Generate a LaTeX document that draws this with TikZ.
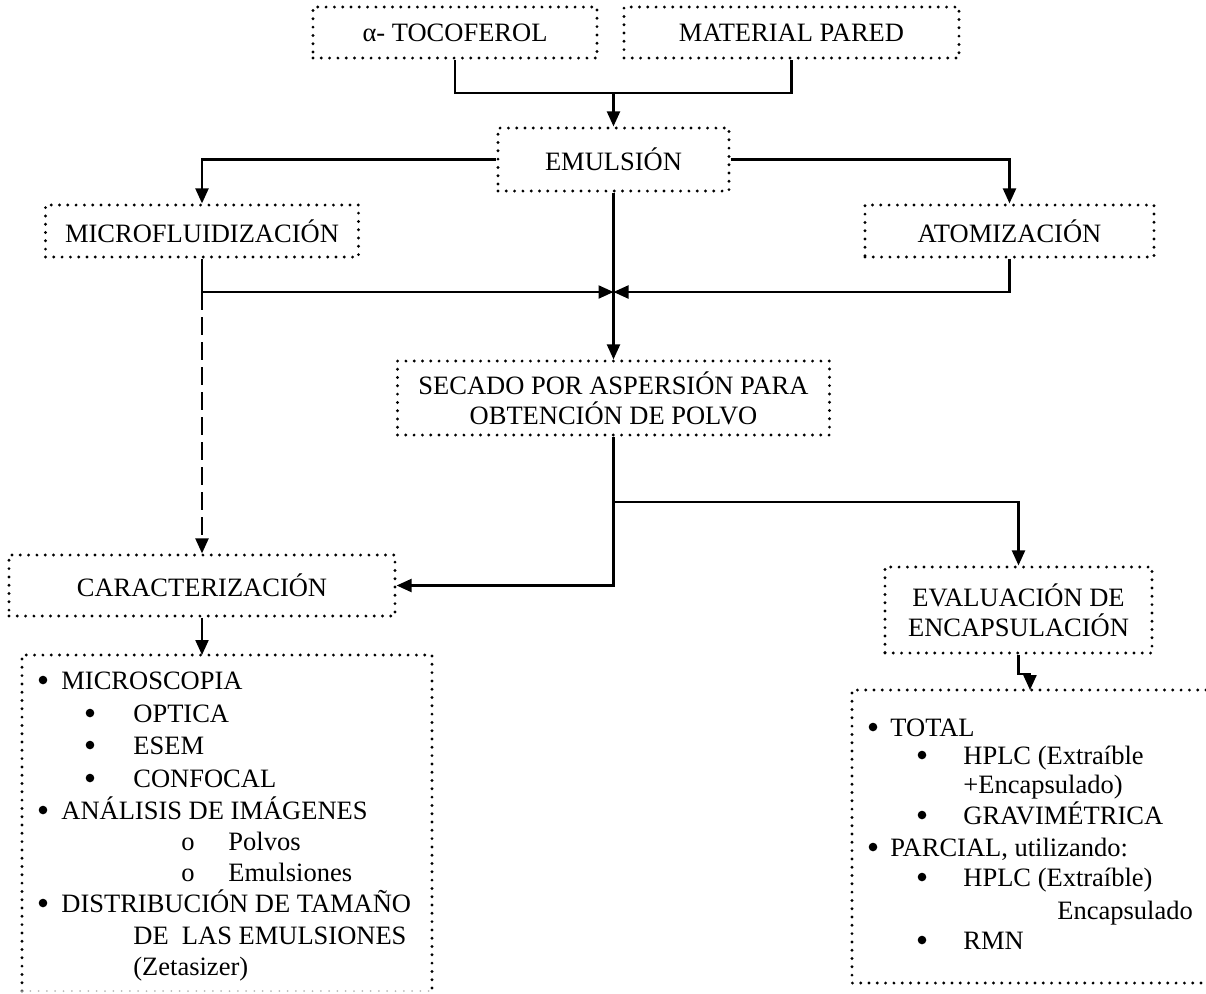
\documentclass[tikz,border=0pt]{standalone}
\usepackage{fontspec}
\setmainfont{Liberation Serif}
\usetikzlibrary{arrows.meta}
\begin{document}
\begin{tikzpicture}[x=0.5pt,y=-0.5pt,
  dotline/.style={line width=1.6pt,line cap=round,dash pattern=on 0pt off 4.15pt},
  box/.style={dotline,draw,rectangle,inner sep=0pt,align=center,font=\fontsize{13.25pt}{15pt}\selectfont},
  conn/.style={line width=1.1pt},
  arr/.style={conn,-{Triangle[length=7.5pt,width=6.5pt]}},
  dsh/.style={dash pattern=on 9pt off 3.5pt},
  lt/.style={inner sep=0pt,anchor=base west,font=\fontsize{13.25pt}{15pt}\selectfont},
  bt/.style={inner sep=0pt,anchor=base,font=\fontsize{13.25pt}{15pt}\selectfont},
  dotb/.style={circle,fill,inner sep=0pt,minimum size=4.3pt}]
\useasboundingbox (0,0) rectangle (1206,993);
% boxes
\node[box,minimum width=142pt,minimum height=25.5pt] (toco) at (455,32.5) {α- TOCOFEROL};
\node[box,minimum width=167.5pt,minimum height=25.5pt] (mat) at (791.5,32.5) {MATERIAL PARED};
\node[box,minimum width=115.5pt,minimum height=31.5pt] (emul) at (613.5,159.5) {EMULSIÓN};
\node[box,minimum width=156.5pt,minimum height=26pt] (micro) at (202,231) {MICROFLUIDIZACIÓN};
\node[box,minimum width=144.5pt,minimum height=26pt] (atom) at (1009.5,231) {ATOMIZACIÓN};
\node[box,minimum width=216pt,minimum height=37pt] (secado) at (613.5,398) {SECADO POR ASPERSIÓN PARA\\OBTENCIÓN DE POLVO};
\node[box,minimum width=193pt,minimum height=30.5pt] (caract) at (202,585.5) {CARACTERIZACIÓN};
\node[box,minimum width=133.5pt,minimum height=43pt] (eval) at (1018.5,610) {EVALUACIÓN DE\\ENCAPSULACIÓN};
% list boxes (frames)
\coordinate (l1a) at (22,655);
\coordinate (l1b) at (432,991);
\coordinate (l2a) at (852,690);
\coordinate (l2b) at (1206,983);
\draw[dotline] (l1a |- l1b) -- (l1a) -- (l1a -| l1b) -- (l1b);
\draw[dotline,line width=1pt,gray!55] (l1a |- l1b) -- (l1b);
\draw[dotline] (l2a -| l2b) -- (l2a) -- (l2a |- l2b) -- (l2b);
% connectors
\coordinate (j1) at (613.5,93);
\draw[conn] (toco.south) |- (j1) -| (mat.south);
\draw[arr] (j1) -- (emul.north);
\draw[arr] (emul.west) -| (micro.north);
\draw[arr] (emul.east) -| (atom.north);
\coordinate (j2) at (613.5,292);
\draw[arr] (micro.south) |- (j2);
\draw[arr] (atom.south) |- (j2);
\draw[arr] (emul.south) -- (secado.north);
\draw[arr,dsh] (micro.south |- j2) -- (caract.north);
\coordinate (j3) at (613.5,502);
\draw[arr] (secado.south) |- (caract.east);
\draw[arr] (j3) -| (eval.north);
\coordinate (k1) at (202,655);
\draw[arr] (caract.south) -- (k1);
\coordinate (k2) at (1030,690);
\draw[arr] (eval.south) -- ++(0,19) -| (k2);
% left list
\node[dotb] (b1) at (43,680) {};
\node[lt] (t1) at (61,689) {MICROSCOPIA};
\node[dotb] (b2) at (90,713) {};
\node[lt] (t2) at (133,722) {OPTICA};
\node[dotb] (b3) at (90,745) {};
\node[lt] (t3) at (133,754) {ESEM};
\node[dotb] (b4) at (90,778) {};
\node[lt] (t4) at (133,787) {CONFOCAL};
\node[dotb] (b5) at (43,810) {};
\node[lt] (t5) at (61,819) {ANÁLISIS DE IMÁGENES};
\node[bt] (b6) at (188,850) {o};
\node[lt] (t6) at (228,850) {Polvos};
\node[bt] (b7) at (188,881) {o};
\node[lt] (t7) at (228,881) {Emulsiones};
\node[dotb] (b8) at (43,903) {};
\node[lt] (t8) at (61,912) {DISTRIBUCIÓN DE TAMAÑO};
\node[lt] (t9) at (133,944) {DE\ \ LAS EMULSIONES};
\node[lt] (t10) at (133,975) {(Zetasizer)};
% right list
\node[dotb] (c1) at (873,727) {};
\node[lt] (s1) at (890,736) {TOTAL};
\node[dotb] (c2) at (922,755) {};
\node[lt] (s2) at (963,764) {HPLC (Extraíble};
\node[lt] (s3) at (963,793) {+Encapsulado)};
\node[dotb] (c4) at (922,815) {};
\node[lt] (s4) at (963,824) {GRAVIMÉTRICA};
\node[dotb] (c5) at (873,847) {};
\node[lt] (s5) at (890,856) {PARCIAL, utilizando:};
\node[dotb] (c6) at (922,877) {};
\node[lt] (s6) at (963,886) {HPLC (Extraíble)};
\node[lt] (s7) at (1057,919) {Encapsulado};
\node[dotb] (c8) at (922,940) {};
\node[lt] (s8) at (963,949) {RMN};
\end{tikzpicture}
\end{document}
